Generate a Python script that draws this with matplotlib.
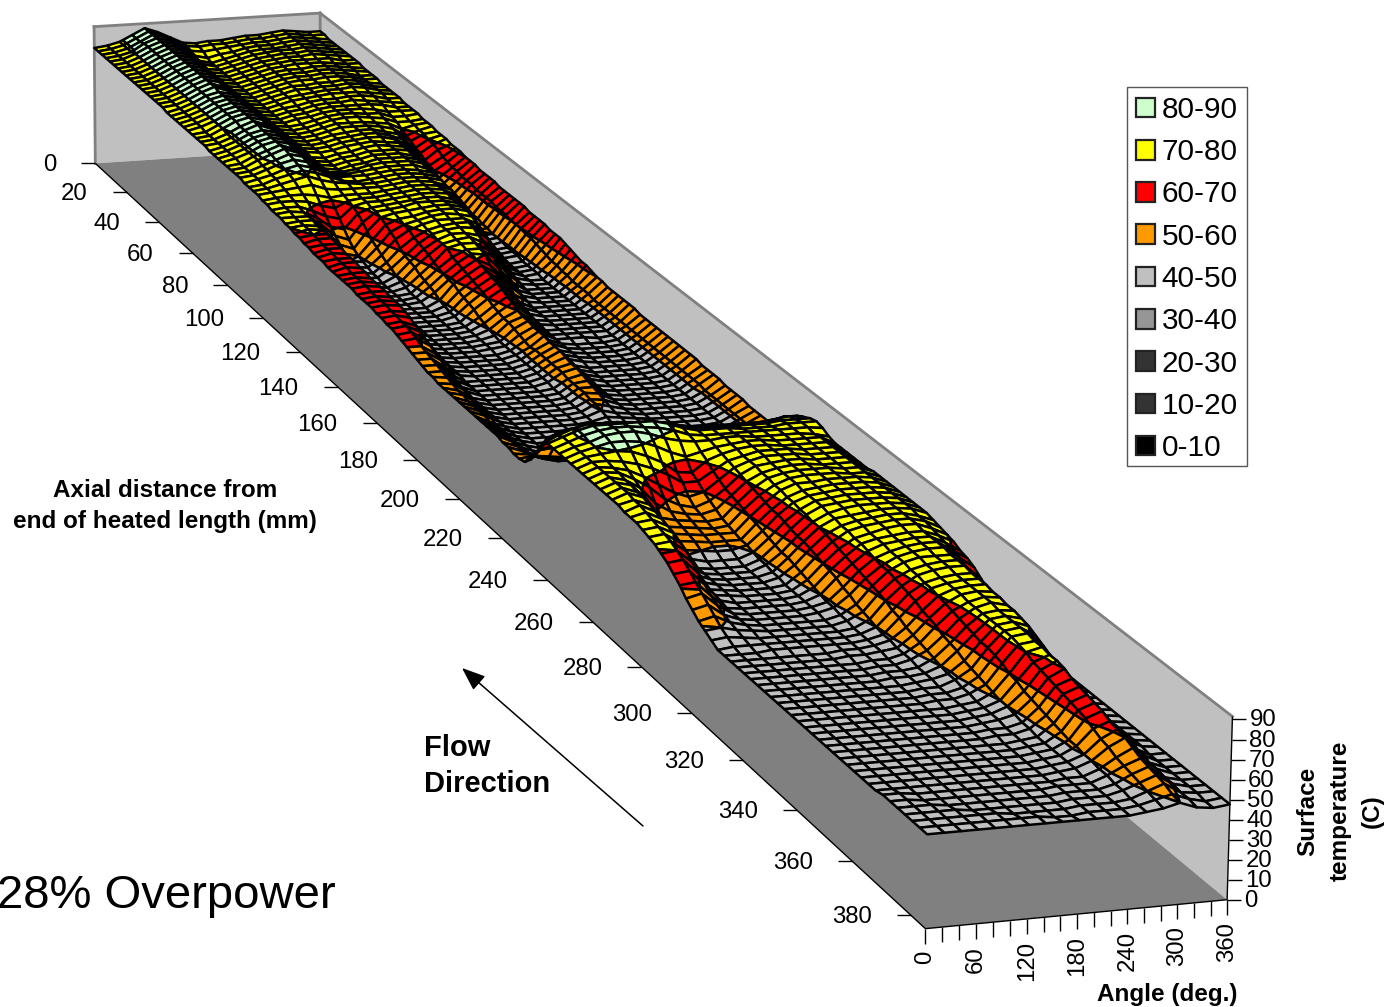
import numpy as np
import matplotlib
matplotlib.use('Agg')
import matplotlib.pyplot as plt
from matplotlib.lines import Line2D
from matplotlib.patches import FancyArrowPatch, Patch, Rectangle
from mpl_toolkits.mplot3d import proj3d
from mpl_toolkits.mplot3d.art3d import Poly3DCollection

W, H = 1386, 1007

angles = list(range(0, 361, 20))
axial_step = 2.5
axial_ticks = list(range(0, 381, 20))
angle_ticks = list(range(0, 361, 20))
angle_labels = [0, 60, 120, 180, 240, 300, 360]
temp_ticks = list(range(0, 91, 10))

band_low = [80, 70, 60, 50, 40, 30, 20, 10, 0]
band_labels = ['80-90', '70-80', '60-70', '50-60', '40-50', '30-40', '20-30', '10-20', '0-10']
band_colors = ['#CCFFCC', '#FFFF00', '#FF0000', '#FF9900', '#C0C0C0',
               '#969696', '#333333', '#333333', '#000000']

# one line per axial station (every 2.5 mm), one column per angle
temp_table = """
76 77 79 83 87 84 80 76 75 76 76 77 78 78 79 80 79 78 78
76 77 79 83 87 84 80 76 75 76 76 77 78 78 79 80 79 78 78
76 77 79 83 87 85 80 75 74 75 76 77 78 78 79 80 79 78 77
76 77 79 84 87 85 80 74 72 74 75 77 78 78 79 80 79 78 77
76 77 80 84 87 85 79 73 71 73 75 77 78 78 79 80 79 78 77
76 77 80 84 87 85 79 73 71 73 75 77 78 79 79 80 79 78 77
76 77 80 84 87 85 79 72 71 73 75 77 78 79 79 80 79 78 77
76 77 80 84 87 85 79 72 71 73 75 77 78 79 79 80 79 78 77
76 77 80 84 87 85 79 72 71 73 75 77 78 79 79 79 79 77 77
76 77 80 84 87 85 79 72 71 73 75 77 78 79 79 79 78 77 77
76 77 80 84 87 85 78 72 71 73 75 77 78 78 79 79 78 77 76
76 77 80 84 87 85 78 72 71 73 75 77 78 78 79 79 78 77 76
76 77 80 84 87 85 78 72 71 73 75 77 78 78 79 79 78 76 76
76 77 80 84 87 85 78 72 71 73 75 77 78 78 79 79 78 76 76
76 77 80 84 87 85 78 72 71 73 75 77 77 78 78 79 78 76 75
76 77 80 84 87 85 78 72 71 73 75 77 77 78 78 79 78 76 75
76 77 80 84 87 84 78 72 71 73 75 76 77 78 78 79 78 76 75
76 77 80 84 87 84 78 72 71 73 75 76 77 78 78 78 77 76 75
75 77 80 84 86 84 78 72 71 73 74 76 77 77 78 78 77 75 75
75 77 80 84 86 84 78 72 71 73 74 76 77 77 78 77 76 75 74
75 77 80 84 86 84 78 72 71 73 74 76 77 77 77 77 76 74 74
75 77 80 84 86 84 78 72 71 73 74 76 77 77 77 76 74 74 74
75 77 80 84 86 84 78 72 71 72 74 76 77 77 76 76 73 73 74
75 77 80 84 86 84 78 72 71 72 74 76 77 77 76 75 72 72 73
75 76 80 84 86 84 78 72 71 72 74 76 76 76 75 74 70 72 73
75 76 80 84 86 84 78 72 71 72 74 76 76 76 75 73 68 71 73
75 76 79 83 86 83 78 72 71 72 74 75 76 76 74 72 67 71 72
75 76 79 83 86 83 78 72 71 72 74 75 76 76 74 71 65 70 72
74 76 79 83 85 83 77 72 71 72 74 75 76 76 74 70 64 69 72
74 76 79 83 85 83 77 72 71 72 74 75 76 75 74 69 62 68 71
74 76 79 83 85 83 77 71 70 72 73 75 76 75 74 68 61 66 71
74 76 79 83 85 83 77 71 70 72 73 75 75 75 74 66 60 65 71
74 75 79 82 85 82 77 71 70 72 73 75 75 75 73 65 58 64 70
74 75 79 82 85 82 77 71 70 72 73 75 75 75 73 64 57 64 70
74 75 78 81 84 82 76 71 71 72 74 75 75 75 73 62 56 63 70
74 75 78 81 83 81 76 72 72 73 74 75 75 75 72 60 55 63 69
73 75 77 80 82 80 76 73 73 73 74 75 75 74 72 59 54 63 69
73 74 77 79 81 79 76 73 72 73 74 75 75 74 72 57 53 62 69
73 74 76 78 80 77 75 74 73 73 74 75 75 74 72 56 53 62 69
73 74 75 76 77 74 73 73 73 73 74 75 75 74 71 54 52 62 68
72 73 74 74 73 71 72 72 72 73 74 75 75 74 71 52 52 62 68
72 73 73 72 69 67 71 72 72 73 74 75 75 74 70 51 51 61 68
71 72 72 69 65 63 70 72 72 73 74 75 75 74 69 50 51 61 68
71 72 71 67 61 59 68 71 72 73 74 75 75 73 68 49 50 61 68
71 71 71 65 58 55 65 71 72 73 75 75 75 73 66 49 50 60 68
70 71 71 63 55 52 62 70 72 73 74 75 75 73 64 48 50 60 67
70 71 70 62 52 50 59 68 71 72 74 75 75 73 62 48 49 60 67
69 71 70 60 50 49 57 66 70 72 74 75 74 72 60 48 49 59 67
69 70 70 58 49 48 55 64 69 72 74 74 74 70 58 48 49 59 67
68 70 70 56 48 47 53 61 67 71 73 74 74 68 55 47 48 58 66
68 69 69 55 47 47 52 59 66 71 73 74 73 66 53 47 48 57 66
67 69 69 54 47 46 50 58 65 70 73 73 71 62 51 47 48 56 66
67 69 68 53 47 46 49 57 64 70 72 73 69 60 50 47 48 55 65
67 68 68 51 46 46 48 55 62 70 72 72 67 58 49 47 47 55 64
66 68 68 50 46 46 47 54 61 67 71 71 65 55 48 47 47 54 63
66 68 67 49 46 46 47 53 60 66 71 70 61 52 47 47 47 54 62
66 67 67 49 46 46 47 52 59 65 70 66 58 50 47 47 47 53 62
66 67 66 48 46 46 46 50 59 64 69 64 56 49 47 47 47 53 61
66 67 66 48 46 46 46 49 57 63 68 62 53 48 47 47 47 53 60
66 67 66 48 46 46 46 48 56 62 67 61 51 47 47 47 47 53 60
65 66 66 48 46 46 46 48 55 61 66 60 50 47 47 47 47 52 59
65 66 65 48 46 46 46 47 54 60 65 58 49 47 47 47 47 52 59
65 66 65 48 46 46 46 47 52 58 63 56 48 47 47 47 47 52 59
65 66 65 48 46 46 46 47 51 57 62 55 48 47 47 47 47 52 59
64 65 64 47 46 46 46 47 50 56 60 53 47 47 47 47 47 52 59
64 65 63 47 46 46 46 47 49 56 59 52 47 47 47 47 47 52 59
63 64 61 47 46 46 46 47 48 55 59 51 47 47 47 46 47 52 58
63 64 60 47 46 46 46 47 48 54 58 50 47 46 46 46 47 52 58
62 63 58 47 46 46 46 46 48 53 58 50 47 46 46 46 47 52 58
61 62 57 47 46 46 46 46 48 52 58 49 47 46 46 46 47 52 58
60 60 55 47 46 46 46 46 48 53 57 49 47 46 46 46 47 52 58
59 59 54 47 46 46 46 46 48 53 57 49 47 46 46 46 47 52 58
58 58 52 47 46 46 46 46 48 53 57 48 46 46 46 46 47 52 58
57 57 51 46 46 46 46 46 48 53 56 48 46 46 46 46 47 52 58
56 56 50 46 46 46 46 46 48 53 55 48 46 46 46 46 47 52 58
56 55 49 46 46 46 46 46 48 53 55 48 46 46 46 46 47 52 58
55 54 49 46 46 46 46 46 47 52 54 47 46 46 46 46 47 52 58
55 53 48 46 46 46 46 46 47 52 53 47 46 46 46 46 47 52 57
55 53 48 46 46 46 46 46 47 52 52 47 46 46 46 46 47 52 57
55 52 48 46 46 46 46 46 47 52 51 47 46 46 46 46 47 52 57
55 52 48 46 46 46 46 46 47 51 50 47 46 46 46 46 47 51 57
55 52 48 46 46 46 46 46 47 51 49 47 46 46 46 46 47 51 56
55 52 48 46 46 46 46 46 47 50 48 47 46 46 46 46 47 51 56
55 51 48 46 46 46 46 46 47 49 48 47 46 46 46 46 47 51 56
55 51 48 46 46 46 46 46 47 48 47 47 46 46 46 46 47 51 56
55 51 48 46 46 46 46 46 47 47 47 47 46 46 46 46 47 51 55
55 51 48 46 46 46 46 46 47 47 47 47 46 46 46 46 47 51 55
55 51 48 46 46 46 46 46 47 47 47 47 46 46 46 46 47 51 55
54 51 48 46 46 46 46 46 47 47 47 47 47 47 47 47 48 51 55
54 51 48 47 46 46 46 46 47 47 47 47 47 47 47 47 48 51 55
53 52 49 47 47 47 47 47 48 48 48 48 48 48 48 49 49 52 56
53 54 53 52 52 52 52 52 52 52 52 52 52 52 53 53 54 55 59
54 60 62 62 62 62 62 62 62 62 62 62 62 62 62 62 63 65 67
58 68 70 71 72 72 71 70 70 69 69 68 68 68 68 68 69 71 71
64 73 76 77 78 78 77 76 75 74 73 72 72 72 72 72 73 74 73
72 76 79 81 81 81 80 80 79 77 75 74 74 74 74 74 75 75 75
75 78 81 83 83 83 83 83 81 78 76 76 76 75 75 75 76 76 76
75 78 81 83 84 84 83 82 80 77 76 76 76 76 76 76 76 76 75
75 78 80 83 84 84 82 79 77 76 76 77 77 76 76 76 76 75 73
75 78 80 82 82 81 78 74 71 73 75 76 77 77 76 76 76 76 72
75 78 79 80 79 76 72 66 65 71 74 76 77 77 76 76 76 76 72
75 78 78 77 75 72 68 63 63 68 73 75 77 77 77 76 76 76 72
75 78 77 75 71 66 61 58 60 66 72 75 77 77 77 76 76 76 72
75 78 77 73 68 61 57 55 58 64 71 75 76 77 77 76 76 76 72
75 78 76 71 62 57 55 54 56 63 70 74 76 77 77 76 76 76 72
75 78 76 68 57 55 54 53 54 62 69 74 76 77 77 77 76 76 73
75 78 75 65 55 54 53 52 53 61 68 73 76 77 77 77 76 76 73
75 78 75 62 54 53 52 52 52 60 67 73 76 76 77 77 77 76 73
75 77 74 59 53 52 51 51 51 59 66 72 75 76 77 77 77 76 73
74 77 73 56 51 50 49 49 51 58 66 72 75 76 77 77 77 76 73
74 76 72 54 49 47 47 47 50 57 65 71 75 76 77 77 77 76 73
74 75 71 52 47 46 46 46 49 56 64 71 75 76 77 77 77 76 73
73 74 70 51 47 46 46 46 49 55 63 70 74 76 77 77 77 76 73
72 73 68 50 47 46 46 46 48 55 63 70 74 75 76 77 77 76 73
71 72 66 49 47 46 46 46 48 54 62 69 73 75 76 77 77 75 72
69 70 63 48 47 46 46 46 47 53 61 68 73 75 76 77 77 75 71
67 68 60 48 47 46 46 46 47 52 60 67 72 74 76 77 77 74 70
64 65 57 48 46 46 46 46 47 51 59 66 72 74 75 76 76 73 69
61 62 54 47 46 46 46 46 47 50 58 65 71 74 75 76 76 72 67
57 59 52 47 46 46 46 46 47 49 56 64 70 73 75 76 76 71 66
54 56 50 47 46 46 46 46 47 49 55 63 69 73 75 76 76 70 64
51 53 49 47 46 46 46 46 46 48 53 62 69 73 75 75 75 68 61
49 50 48 47 46 46 46 46 46 48 52 61 68 72 74 75 75 66 58
47 48 47 46 46 46 46 46 46 47 51 60 67 72 74 75 75 64 55
45 46 46 46 46 46 46 46 46 47 50 58 66 71 73 74 74 62 53
45 45 45 46 46 46 46 46 46 47 49 57 65 71 73 74 74 60 52
45 45 45 45 45 45 45 46 46 47 49 55 63 70 73 74 74 58 51
45 45 45 45 45 45 45 46 46 47 48 54 62 69 73 74 73 56 50
45 45 45 45 45 45 45 45 46 46 48 53 61 68 72 74 73 54 49
45 45 45 45 45 45 45 45 46 46 48 52 59 67 72 74 72 53 48
45 45 45 45 45 45 45 45 46 46 47 51 58 66 72 73 72 52 48
45 45 45 45 45 45 45 45 46 46 47 50 57 65 72 73 71 51 48
45 45 45 45 45 45 45 45 45 46 47 49 55 64 72 73 70 50 47
45 45 45 45 45 45 45 45 45 46 46 49 54 64 72 73 68 50 47
45 45 45 45 45 45 45 45 45 46 46 48 53 63 72 73 66 49 47
45 45 45 45 45 45 45 45 45 46 46 48 52 62 71 72 64 49 47
45 45 45 45 45 45 45 45 45 45 46 47 51 60 70 72 62 48 47
45 45 45 45 45 45 45 45 45 45 46 47 50 59 68 71 60 48 47
45 45 45 45 45 45 45 45 45 45 46 47 50 57 67 71 58 48 47
45 45 45 45 45 45 45 45 45 45 46 47 49 56 66 70 57 48 47
45 45 45 45 45 45 45 45 45 45 46 46 48 55 65 68 56 48 47
45 45 45 45 45 45 45 45 45 45 46 46 48 54 64 67 55 48 47
45 45 45 45 45 45 45 45 45 45 45 46 47 53 63 66 54 48 47
45 45 45 45 45 45 45 45 45 45 45 46 47 52 62 65 53 48 47
45 45 45 45 45 45 45 45 45 45 45 46 47 51 61 64 53 48 47
45 45 45 45 45 45 45 45 45 45 45 46 47 51 59 62 52 48 47
45 45 45 45 45 45 45 45 45 45 45 46 47 50 57 61 51 47 47
45 45 45 45 45 45 45 45 45 45 45 46 47 50 56 60 51 47 47
46 46 45 45 45 45 45 45 45 45 45 46 46 49 54 58 50 47 47
46 46 45 45 45 45 45 45 45 45 46 46 46 49 53 56 50 47 47
46 46 46 45 45 45 45 45 45 45 46 46 46 48 52 55 49 47 47
46 46 46 46 45 45 45 45 45 45 46 46 46 48 51 54 49 47 47
46 46 46 46 46 46 45 45 45 45 46 46 46 47 50 53 48 47 47
46 46 46 46 46 46 46 46 45 45 46 46 46 47 49 51 48 46 47
46 46 46 46 46 46 46 46 46 46 46 46 46 47 48 50 47 46 47
"""
temps = [[float(v) for v in row.split()] for row in temp_table.strip().splitlines()]
axial = [i * axial_step for i in range(len(temps))]

plt.rcParams['font.family'] = 'Liberation Sans'

# camera found by fitting the box corners to the picture
ELEV, AZIM, ROLL = 15.10238, -107.40819, -0.39047
FOCAL = np.exp(-0.66737)
BOX = (1, np.exp(2.35461), np.exp(-0.51241))
ZOOM = np.exp(-0.0499)
CX, CY, SCALE = 573.14864, 395.79599, np.exp(9.66972)


def fx(px):
    return px / W


def fy(py):
    return 1 - py / H


def clip_band(poly, low, high):
    # cut one mesh cell down to the part lying inside a temperature band
    for level, sign in ((low, 1), (high, -1)):
        out = []
        for i, a in enumerate(poly):
            b = poly[(i + 1) % len(poly)]
            da, db = sign * (a[2] - level), sign * (b[2] - level)
            if da >= 0:
                out.append(a)
            if da * db < 0:
                t = da / (da - db)
                out.append(tuple(a[k] + t * (b[k] - a[k]) for k in range(3)))
        poly = out
        if len(poly) < 3:
            return []
    return poly


def surface_polys(xs, ys, zs):
    verts, faces = [], []
    for i in range(len(ys) - 1):
        for j in range(len(xs) - 1):
            cell = [(xs[j], ys[i], zs[i][j]), (xs[j + 1], ys[i], zs[i][j + 1]),
                    (xs[j + 1], ys[i + 1], zs[i + 1][j + 1]), (xs[j], ys[i + 1], zs[i + 1][j])]
            for low, col in zip(band_low, band_colors):
                part = clip_band(cell, low, low + 10)
                if part:
                    verts.append(part)
                    faces.append(col)
    return verts, faces


fig = plt.figure(figsize=(W / 100, H / 100), dpi=100)
ax = fig.add_subplot(projection='3d', computed_zorder=False)
ax.set_xlim(0, 360)
ax.set_ylim(385, 0)
ax.set_zlim(0, 90)
ax.view_init(ELEV, AZIM, ROLL)
ax.set_proj_type('persp', focal_length=FOCAL)
ax.set_box_aspect(BOX, zoom=ZOOM)
ax.set_axis_off()
ax.patch.set_visible(False)

x0, y0, x1, y1 = ax.viewLim.extents
side = SCALE * (x1 - x0)
left = CX + SCALE * x0
bottom = H - (CY - SCALE * y0)
ax.set_position([left / W, bottom / H, side / W, side / H])
M = ax.get_proj()


def to_pix(x, y, z):
    vx, vy, _ = proj3d.proj_transform(x, y, z, M)
    return CX + SCALE * vx, CY - SCALE * vy


def pix_line(xs, ys, color='k', lw=1.0):
    fig.add_artist(Line2D([fx(v) for v in xs], [fy(v) for v in ys], color=color,
                          lw=lw, transform=fig.transFigure, solid_capstyle='butt'))


# walls and floor
xm, ym, zm = angles[-1], axial[-1], temp_ticks[-1]
walls = Poly3DCollection([[(xm, 0, 0), (xm, ym, 0), (xm, ym, zm), (xm, 0, zm)],
                          [(0, 0, 0), (xm, 0, 0), (xm, 0, zm), (0, 0, zm)]],
                         facecolors='#C0C0C0', edgecolors='none', zorder=1)
ax.add_collection3d(walls, autolim=False)
floor = Poly3DCollection([[(0, 0, 0), (xm, 0, 0), (xm, ym, 0), (0, ym, 0)]],
                         facecolors='#808080', edgecolors='none', zorder=2)
ax.add_collection3d(floor, autolim=False)
for a, b in [((0, 0, 0), (0, 0, zm)), ((0, 0, zm), (xm, 0, zm)),
             ((xm, 0, 0), (xm, 0, zm)), ((xm, 0, zm), (xm, ym, zm))]:
    ax.plot(*zip(a, b), color='#808080', lw=2.0, zorder=3)

# surface
verts, faces = surface_polys(angles, axial, temps)
surf = Poly3DCollection(verts, facecolors=faces, edgecolors='k', linewidths=1.8,
                        zsort='average', zorder=4)
ax.add_collection3d(surf, autolim=False)

# axis lines, ticks and labels
px, py = zip(to_pix(0, 0, 0), to_pix(0, ym, 0), to_pix(xm, ym, 0), to_pix(xm, ym, zm))
pix_line(px, py)
for v in axial_ticks:
    tx, ty = to_pix(0, v, 0)
    pix_line([tx - 14, tx], [ty, ty])
    fig.text(fx(tx - 39), fy(ty + 2), str(v), ha='right', va='center', fontsize=17.3)
for v in angle_ticks:
    tx, ty = to_pix(v, ym, 0)
    pix_line([tx, tx], [ty, ty + 15])
    if v in angle_labels:
        fig.text(fx(tx), fy(ty + 22), str(v), ha='center', va='top', rotation=90, fontsize=17.3)
for v in temp_ticks:
    tx, ty = to_pix(xm, ym, v)
    ty += v / 30
    pix_line([tx, tx + 14], [ty, ty])
    fig.text(fx(tx + 17), fy(ty + 1), str(v), ha='left', va='center', fontsize=17.3)

fig.text(fx(165), fy(506), 'Axial distance from\nend of heated length (mm)', ha='center',
         va='center', fontsize=17.5, fontweight='bold', linespacing=1.48)
fig.text(fx(424), fy(766), 'Flow\nDirection', ha='left', va='center', fontsize=21,
         fontweight='bold', linespacing=1.36)
fig.text(fx(1340), fy(811), 'Surface\ntemperature\n(C)', ha='center', va='center',
         rotation=90, fontsize=17.5, fontweight='bold', linespacing=1.5, multialignment='center')
fig.text(fx(1167), fy(994), 'Angle (deg.)', ha='center', va='center', fontsize=17.5,
         fontweight='bold')
fig.text(fx(-3), fy(896), '28% Overpower', ha='left', va='center', fontsize=34)

fig.add_artist(FancyArrowPatch((fx(643), fy(826)), (fx(462), fy(668)), transform=fig.transFigure,
                               arrowstyle='-|>,head_length=0.9,head_width=0.35', mutation_scale=16,
                               color='k', lw=1.1, shrinkA=0, shrinkB=0))

# legend frame is drawn apart so its height can follow the reference
fig.add_artist(Rectangle((fx(1127), fy(466)), 120 / W, 379 / H, transform=fig.transFigure,
                         facecolor='white', edgecolor='#555555', lw=1.0))
handles = [Patch(facecolor=c, edgecolor='#222222', lw=1.6, label=t)
           for c, t in zip(band_colors, band_labels)]
fig.legend(handles=handles, loc='upper left', bbox_to_anchor=(fx(1127), fy(87)), borderaxespad=0,
           fontsize=21.4, frameon=False, handlelength=0.64, handleheight=0.64,
           handletextpad=0.22, labelspacing=0.48, borderpad=0.3)

fig.savefig('out.png', dpi=100)
